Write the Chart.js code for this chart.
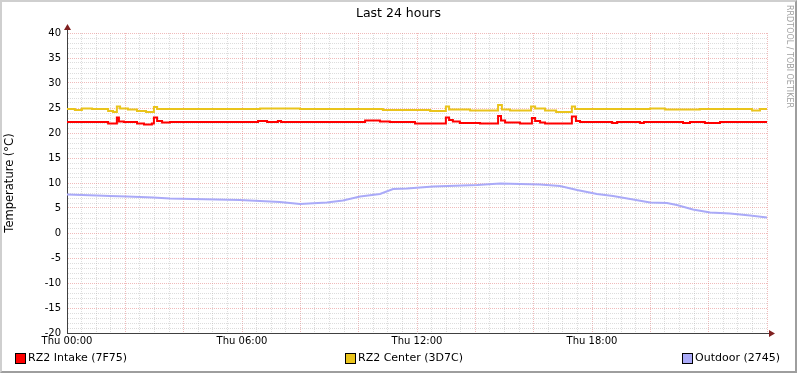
<!DOCTYPE html>
<html>
<head>
<meta charset="utf-8">
<script src="https://cdn.jsdelivr.net/npm/chart.js@4/dist/chart.umd.min.js"></script>
<style>
  body { margin: 0; background: #fff; font-family: "DejaVu Sans", sans-serif; }
  #frame {
    position: absolute; left: 0; top: 0; width: 797px; height: 373px;
    box-sizing: border-box; border: 2px solid;
    border-color: #cfcfcf #9e9e9e #9e9e9e #cfcfcf; background: #fff;
  }
  #grafico { position: absolute; left: 0; top: 0; }
  .txt { position: absolute; font-size: 10px; color: #000; white-space: nowrap; line-height: 12px; }
  #titulo { left: 0; width: 797px; top: 6px; text-align: center; font-size: 12.5px; line-height: 14px; }
  #marca { left: 783px; top: 5px; writing-mode: vertical-rl; font-size: 8px; color: #a0a0a0; }
  .caixa { position: absolute; width: 9px; height: 9px; border: 1px solid #000; }
</style>
</head>
<body>
<div id="frame"></div>
<canvas id="grafico" width="797" height="373"></canvas>
<div class="txt" id="titulo">Last 24 hours</div>
<div class="txt" id="marca">RRDTOOL / TOBI OETIKER</div>
<div id="legenda"></div>
<script>
// horas (0 = Thu 00:00) e valores em °C
const horasIntake = [0, 1.41, 1.71, 1.78, 1.95, 2.40, 2.64, 2.91, 2.98, 3.09, 3.26, 3.53,
  6.55, 6.86, 7.23, 7.34, 10.22, 10.73, 11.07, 11.93, 12.99, 13.10, 13.23, 13.47, 14.16,
  14.78, 14.88, 15.02, 15.53, 15.94, 16.05, 16.22, 16.39, 17.31, 17.45, 17.59,
  18.69, 18.86, 19.65, 19.78, 21.12, 21.36, 21.87, 22.39, 24];
const valoresIntake = [22.2, 21.9, 23.1, 22.3, 22.2, 21.9, 21.7, 21.9, 23.1, 22.4, 22.1, 22.2,
  22.4, 22.2, 22.4, 22.2, 22.5, 22.3, 22.2, 21.9, 23.1, 22.6, 22.3, 22.0, 21.9,
  23.4, 22.5, 22.1, 21.9, 23.0, 22.4, 22.1, 21.9, 23.3, 22.4, 22.2,
  22.0, 22.2, 22.0, 22.2, 22.0, 22.2, 22.0, 22.2, 22.2];

const horasCenter = [0, 0.27, 0.51, 0.86, 1.41, 1.58, 1.71, 1.82, 2.09, 2.40, 2.71, 2.98, 3.09,
  6.62, 7.99, 10.83, 12.45, 12.99, 13.10, 13.82, 14.78, 14.91, 15.19, 15.91, 16.05,
  16.39, 16.77, 17.31, 17.42, 19.99, 20.5, 21.70, 23.49, 23.76, 24];
const valoresCenter = [24.8, 24.6, 24.9, 24.8, 24.4, 24.2, 25.3, 24.9, 24.7, 24.4, 24.2, 25.2, 24.8,
  24.9, 24.8, 24.6, 24.4, 25.3, 24.7, 24.5, 25.6, 24.7, 24.5, 25.3, 24.9,
  24.5, 24.2, 25.3, 24.8, 24.9, 24.7, 24.8, 24.5, 24.8, 24.8];

const horasOutdoor = [0, 1.03, 1.47, 2.06, 2.95, 3.53, 4.32, 5.93, 7.30, 7.99, 8.91, 9.46,
  10.05, 10.73, 11.18, 11.66, 12.55, 14.06, 14.85, 16.22, 16.90, 17.49, 18.17, 18.72,
  19.41, 19.99, 20.57, 20.91, 21.46, 22.05, 22.73, 23.42, 24];
const valoresOutdoor = [7.7, 7.5, 7.4, 7.3, 7.1, 6.9, 6.8, 6.6, 6.2, 5.8, 6.1, 6.5,
  7.3, 7.8, 8.8, 8.9, 9.3, 9.6, 9.9, 9.7, 9.4, 8.6, 7.8, 7.4,
  6.7, 6.1, 6.0, 5.6, 4.7, 4.1, 3.9, 3.5, 3.1];

const rotulosX = { 0: 'Thu 00:00', 6: 'Thu 06:00', 12: 'Thu 12:00', 18: 'Thu 18:00' };

const series = [
  { nome: 'RZ2 Intake (7F75)', cor: '#ff0000', horas: horasIntake, valores: valoresIntake, degrau: 'before', esq: 15 },
  { nome: 'RZ2 Center (3D7C)', cor: '#eac41c', horas: horasCenter, valores: valoresCenter, degrau: 'before', esq: 345 },
  { nome: 'Outdoor (2745)', cor: '#aaaaf8', horas: horasOutdoor, valores: valoresOutdoor, degrau: false, esq: 682 }
];

const legenda = document.getElementById('legenda');
series.forEach(s => {
  const c = document.createElement('div');
  c.className = 'caixa';
  c.style.left = s.esq + 'px';
  c.style.top = '353px';
  c.style.background = s.cor;
  legenda.appendChild(c);
  const t = document.createElement('div');
  t.className = 'txt';
  t.style.left = (s.esq + 13) + 'px';
  t.style.top = '352px';
  t.style.fontSize = '11px';
  t.textContent = s.nome;
  legenda.appendChild(t);
});

const setas = {
  id: 'setas',
  afterDraw(chart) {
    const { ctx, chartArea: a } = chart;
    ctx.save();
    ctx.strokeStyle = '#404040';
    ctx.lineWidth = 1;
    ctx.beginPath();
    ctx.moveTo(a.left + 0.5, a.top);
    ctx.lineTo(a.left + 0.5, a.top - 6);
    ctx.moveTo(a.right, a.bottom + 0.5);
    ctx.lineTo(a.right + 5, a.bottom + 0.5);
    ctx.stroke();
    ctx.fillStyle = '#802020';
    ctx.beginPath();
    ctx.moveTo(a.left + 0.5, a.top - 9);
    ctx.lineTo(a.left - 3, a.top - 3);
    ctx.lineTo(a.left + 4, a.top - 3);
    ctx.closePath();
    ctx.fill();
    ctx.beginPath();
    ctx.moveTo(a.right + 8, a.bottom + 0.5);
    ctx.lineTo(a.right + 2, a.bottom - 3);
    ctx.lineTo(a.right + 2, a.bottom + 4);
    ctx.closePath();
    ctx.fill();
    ctx.restore();
  }
};

const fonte = { family: 'DejaVu Sans', size: 10 };
const corMaior = 'rgba(225,120,120,0.5)';
const corMenor = 'rgba(170,170,170,0.4)';

new Chart(document.getElementById('grafico').getContext('2d'), {
  type: 'line',
  data: {
    datasets: series.map(s => ({
      label: s.nome,
      data: s.horas.map((h, i) => ({ x: h, y: s.valores[i] })),
      borderColor: s.cor,
      backgroundColor: s.cor,
      borderWidth: 2,
      pointRadius: 0,
      stepped: s.degrau,
      tension: 0
    }))
  },
  options: {
    responsive: false,
    animation: false,
    layout: { padding: { left: 2, top: 33, right: 30, bottom: 20 } },
    plugins: { legend: { display: false }, title: { display: false }, tooltip: { enabled: false } },
    scales: {
      x: {
        type: 'linear',
        min: 0, max: 24,
        afterFit(scale) { scale.height = 20; },
        ticks: {
          stepSize: 0.5, autoSkip: false, maxTicksLimit: 100, maxRotation: 0,
          padding: 2, color: '#000', font: fonte,
          callback: v => rotulosX[v] || ''
        },
        grid: {
          drawTicks: false,
          color: c => (c.tick && c.tick.value % 2 === 0) ? corMaior : corMenor
        },
        border: { color: '#404040', width: 1, dash: [1, 1] }
      },
      y: {
        min: -20, max: 40,
        afterFit(scale) { scale.width = 65; },
        title: { display: true, text: 'Temperature (°C)', color: '#000', font: { family: 'DejaVu Sans', size: 11.5 }, padding: { top: 1, bottom: 0 } },
        ticks: {
          stepSize: 1, autoSkip: false, maxTicksLimit: 100,
          padding: 6, color: '#000', font: fonte,
          callback: v => (v % 5 === 0) ? String(v) : ''
        },
        grid: {
          drawTicks: false,
          color: c => (c.tick && c.tick.value % 5 === 0) ? corMaior : corMenor
        },
        border: { color: '#404040', width: 1, dash: [1, 1] }
      }
    }
  },
  plugins: [setas]
});
</script>
</body>
</html>
